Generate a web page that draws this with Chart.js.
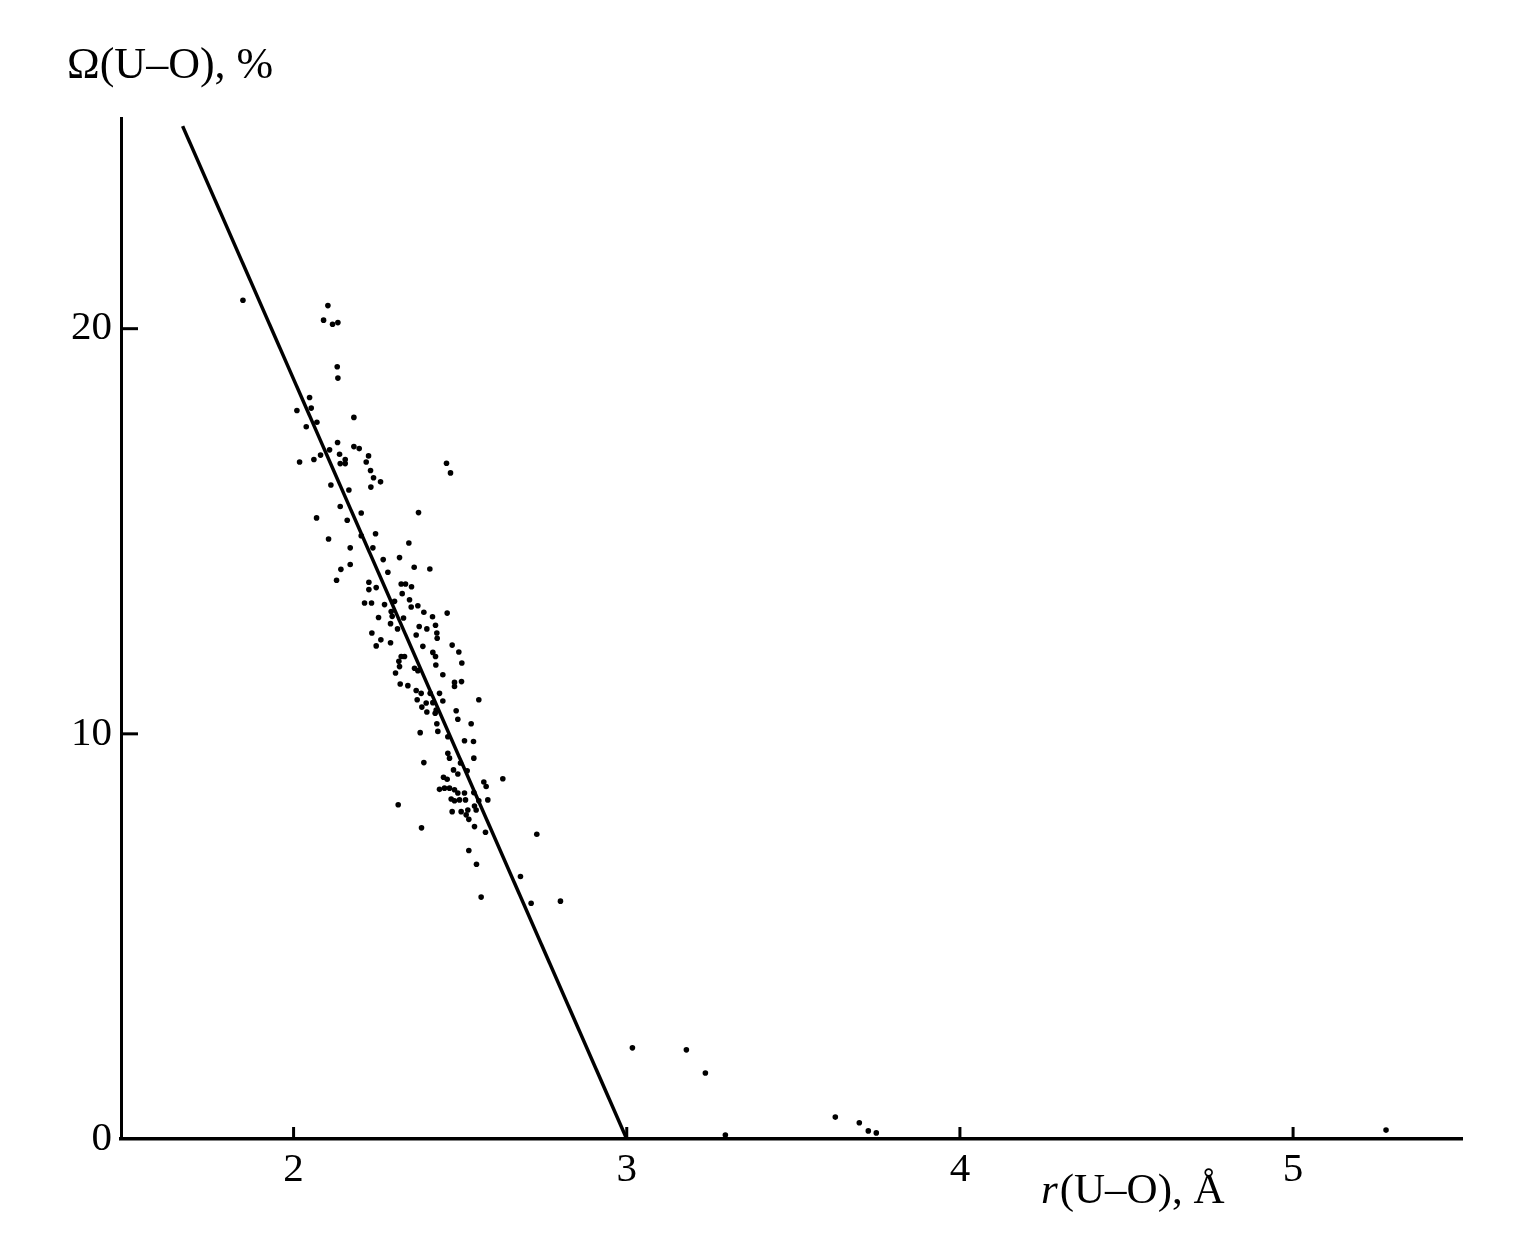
<!DOCTYPE html>
<html>
<head>
<meta charset="utf-8">
<script src="https://cdn.jsdelivr.net/npm/chart.js@4.4.0/dist/chart.umd.min.js"></script>
<style>
  html, body { margin: 0; padding: 0; background: #fff; }
  #wrap { width: 1540px; height: 1248px; position: relative; }
</style>
</head>
<body>
<div id="wrap"><canvas id="grafica"></canvas></div>
<script>
// --- Datos ---
const xTicks = [2, 3, 4, 5];
const yTicks = [0, 10, 20];

// parte alta de la nube
const rAlta = [1.848, 2.103, 2.090, 2.117, 2.133, 2.131, 2.133, 2.048, 2.053, 2.010, 2.038, 2.070, 2.181, 2.132, 2.181, 2.197, 2.108, 2.138, 2.081, 2.061, 2.018, 2.140, 2.155, 2.155, 2.225, 2.218, 2.231, 2.240, 2.261, 2.232, 2.459, 2.471, 2.112, 2.166, 2.140, 2.069, 2.161, 2.203, 2.375, 2.246, 2.203, 2.105];
const omegaAlta = [20.70, 20.57, 20.21, 20.11, 20.15, 19.06, 18.78, 18.30, 18.04, 17.98, 17.58, 17.69, 17.81, 17.19, 17.09, 17.04, 17.01, 16.90, 16.88, 16.77, 16.71, 16.67, 16.77, 16.67, 16.86, 16.71, 16.50, 16.32, 16.22, 16.09, 16.68, 16.44, 16.14, 16.02, 15.61, 15.33, 15.27, 15.45, 15.46, 14.94, 14.89, 14.81];

// parte media
const rMedia = [2.346, 2.170, 2.238, 2.318, 2.269, 2.170, 2.142, 2.362, 2.409, 2.129, 2.283, 2.226, 2.226, 2.248, 2.323, 2.336, 2.354, 2.326, 2.213, 2.234, 2.273, 2.303, 2.348, 2.353, 2.373, 2.391, 2.461, 2.417, 2.293, 2.296, 2.255, 2.330, 2.291, 2.312, 2.377, 2.400, 2.426, 2.430, 2.431, 2.235, 2.262, 2.248, 2.291, 2.368, 2.388, 2.476, 2.496, 2.333, 2.323, 2.418, 2.426, 2.316, 2.318, 2.363, 2.373, 2.427, 2.505, 2.306, 2.448, 2.504, 2.483, 2.483, 2.320, 2.343, 2.368, 2.383, 2.410, 2.438, 2.371, 2.398, 2.418, 2.556, 2.385, 2.448, 2.400, 2.488, 2.428, 2.493];
const omegaMedia = [14.71, 14.59, 14.59, 14.35, 14.30, 14.18, 14.06, 14.11, 14.07, 13.79, 13.99, 13.74, 13.56, 13.61, 13.70, 13.70, 13.63, 13.46, 13.23, 13.23, 13.19, 13.27, 13.31, 13.13, 13.16, 13.00, 12.98, 12.89, 13.02, 12.90, 12.87, 12.86, 12.72, 12.59, 12.65, 12.59, 12.68, 12.49, 12.36, 12.49, 12.32, 12.17, 12.25, 12.44, 12.16, 12.19, 12.02, 11.91, 11.91, 12.01, 11.91, 11.79, 11.66, 11.62, 11.56, 11.70, 11.75, 11.50, 11.46, 11.29, 11.27, 11.17, 11.23, 11.19, 11.07, 11.00, 11.00, 11.00, 10.84, 10.76, 10.77, 10.84, 10.66, 10.81, 10.54, 10.57, 10.59, 10.36];

// parte baja
const rBaja = [2.425, 2.533, 2.430, 2.380, 2.433, 2.463, 2.513, 2.540, 2.463, 2.468, 2.541, 2.391, 2.501, 2.480, 2.493, 2.521, 2.628, 2.450, 2.461, 2.571, 2.578, 2.438, 2.453, 2.468, 2.483, 2.493, 2.513, 2.541, 2.473, 2.483, 2.498, 2.516, 2.556, 2.583, 2.314, 2.543, 2.548, 2.476, 2.503, 2.518, 2.526, 2.523, 2.543, 2.384, 2.576, 2.730, 2.526, 2.549, 2.681, 2.563, 2.801, 2.713];
const omegaBaja = [10.51, 10.25, 10.25, 10.03, 10.06, 9.93, 9.83, 9.81, 9.52, 9.40, 9.40, 9.29, 9.28, 9.11, 9.01, 9.09, 8.89, 8.93, 8.88, 8.81, 8.70, 8.63, 8.66, 8.66, 8.62, 8.54, 8.54, 8.55, 8.39, 8.35, 8.37, 8.37, 8.35, 8.37, 8.25, 8.22, 8.12, 8.08, 8.08, 8.00, 7.89, 8.12, 7.71, 7.68, 7.57, 7.52, 7.12, 6.78, 6.48, 5.97, 5.87, 5.82];

// contactos lejanos
const rCola = [3.017, 3.179, 3.236, 3.296, 3.626, 3.698, 3.725, 3.749, 5.279];
const omegaCola = [2.25, 2.20, 1.63, 0.10, 0.54, 0.40, 0.20, 0.15, 0.22];

// recta de ajuste
const rRecta = [1.667, 3.0];
const omegaRecta = [25.0, 0];

const xMin = 1.482, xMax = 5.507;
const yMin = 0, yMax = 25.2;

// --- Armar puntos ---
const rTodos = [...rAlta, ...rMedia, ...rBaja, ...rCola];
const omegaTodos = [...omegaAlta, ...omegaMedia, ...omegaBaja, ...omegaCola];
const puntos = rTodos.map((r, i) => ({ x: r, y: omegaTodos[i] }));
const recta = rRecta.map((r, i) => ({ x: r, y: omegaRecta[i] }));

const fuente = '"Liberation Serif", "Times New Roman", serif';

// marcas hacia adentro y títulos de los ejes
const marcasYTitulos = {
    id: 'marcasYTitulos',
    afterDraw(chart) {
        const { ctx, chartArea, scales } = chart;
        ctx.save();
        ctx.strokeStyle = '#000';
        ctx.lineWidth = 3;
        xTicks.forEach(v => {
            const px = scales.x.getPixelForValue(v);
            ctx.beginPath();
            ctx.moveTo(px, chartArea.bottom);
            ctx.lineTo(px, chartArea.bottom - 12);
            ctx.stroke();
        });
        yTicks.filter(v => v > 0).forEach(v => {
            const py = scales.y.getPixelForValue(v);
            ctx.beginPath();
            ctx.moveTo(chartArea.left, py);
            ctx.lineTo(chartArea.left + 17, py);
            ctx.stroke();
        });

        ctx.fillStyle = '#000';
        ctx.textBaseline = 'alphabetic';
        ctx.textAlign = 'left';
        ctx.font = `44px ${fuente}`;
        ctx.fillText('Ω(U–O), %', 67, 78);

        ctx.font = `italic 43px ${fuente}`;
        ctx.fillText('r', 1041, 1203);
        const w = ctx.measureText('r').width;
        ctx.font = `43px ${fuente}`;
        ctx.fillText('(U–O), Å', 1041 + w + 2, 1203);
        ctx.restore();
    }
};

const ctx = document.getElementById('grafica').getContext('2d');
new Chart(ctx, {
    type: 'scatter',
    data: {
        datasets: [
            {
                label: 'Ω',
                data: puntos,
                backgroundColor: '#000',
                borderWidth: 0,
                pointRadius: 2.8,
                pointHoverRadius: 2.8
            },
            {
                label: 'ajuste',
                type: 'line',
                data: recta,
                borderColor: '#000',
                borderWidth: 3.5,
                pointRadius: 0,
                fill: false,
                tension: 0
            }
        ]
    },
    options: {
        responsive: true,
        maintainAspectRatio: false,
        animation: false,
        layout: { padding: { left: 0, top: 118, right: 78, bottom: 0 } },
        plugins: {
            legend: { display: false },
            tooltip: { enabled: false }
        },
        scales: {
            x: {
                type: 'linear',
                min: xMin,
                max: xMax,
                afterBuildTicks: s => { s.ticks = xTicks.map(v => ({ value: v })); },
                afterFit: s => { s.height = 109; },
                grid: { drawOnChartArea: false, drawTicks: false },
                border: { display: true, color: '#000', width: 3.5 },
                ticks: {
                    padding: 7,
                    color: '#000',
                    font: { family: fuente, size: 41 },
                    maxRotation: 0,
                    callback: v => String(v)
                }
            },
            y: {
                type: 'linear',
                min: yMin,
                max: yMax,
                afterBuildTicks: s => { s.ticks = yTicks.map(v => ({ value: v })); },
                afterFit: s => { s.width = 121; },
                grid: { drawOnChartArea: false, drawTicks: false },
                border: { display: true, color: '#000', width: 3 },
                ticks: {
                    padding: 9,
                    color: '#000',
                    font: { family: fuente, size: 41 },
                    callback: v => String(v)
                }
            }
        }
    },
    plugins: [marcasYTitulos]
});
</script>
</body>
</html>
